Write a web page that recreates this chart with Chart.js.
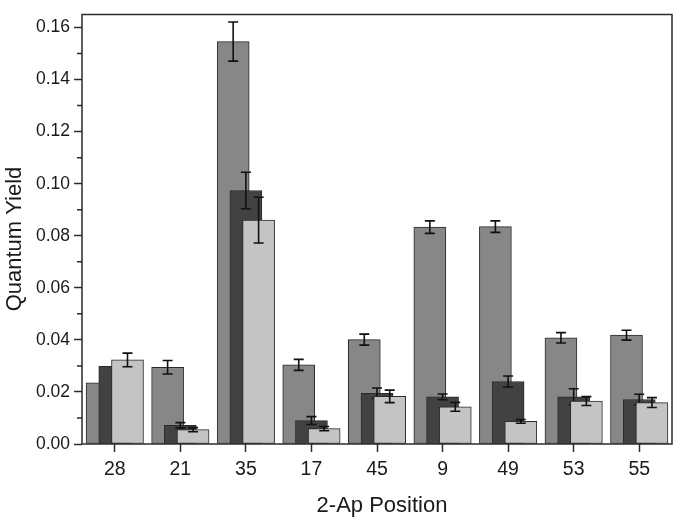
<!DOCTYPE html>
<html>
<head>
<meta charset="utf-8">
<script src="https://cdn.jsdelivr.net/npm/chart.js@4.4.1/dist/chart.umd.min.js"></script>
<style>
  html, body { margin: 0; padding: 0; background: #fff; }
  #wrap { width: 683px; height: 522px; }
</style>
</head>
<body>
<div id="wrap"><canvas id="qyChart" width="683" height="522"></canvas></div>
<script>
// 2-Ap positions along the x axis
const positions = ['28', '21', '35', '17', '45', '9', '49', '53', '55'];

// three series (medium grey, dark grey, light grey) and their errors
const qyMid = [0.0235, 0.0295, 0.1546, 0.0304, 0.0401, 0.0833, 0.0835, 0.0408, 0.0418];
const qyMidErr = [0, 0.0026, 0.0075, 0.0021, 0.0021, 0.0024, 0.0022, 0.0020, 0.0019];
const qyDark = [0.0298, 0.0072, 0.0974, 0.0090, 0.0195, 0.0181, 0.0240, 0.0181, 0.0171];
const qyDarkErr = [0, 0.0010, 0.0070, 0.0015, 0.0020, 0.0011, 0.0021, 0.0031, 0.0020];
const qyLight = [0.0323, 0.0055, 0.0860, 0.0059, 0.0183, 0.0143, 0.0087, 0.0165, 0.0159];
const qyLightErr = [0.0026, 0.0008, 0.0088, 0.0008, 0.0024, 0.0017, 0.0007, 0.0017, 0.0019];

const yTicks = [0, 0.02, 0.04, 0.06, 0.08, 0.10, 0.12, 0.14, 0.16];
const yMinorTicks = [0.01, 0.03, 0.05, 0.07, 0.09, 0.11, 0.13, 0.15];

const AXIS_COLOR = '#2b2b2b';
const TEXT_COLOR = '#1a1a1a';
const FONT = 'Liberation Sans, Arial, sans-serif';

// bars overlap: each series is shifted a bit inside its category.
// higher 'order' is painted first, so the later series sits on top
function series(label, values, errors, shift, color, order) {
    return {
        label: label,
        data: values.map((v, i) => ({ x: i + shift, y: v })),
        errors: errors,
        order: order,
        backgroundColor: color,
        borderColor: '#2a2a2a',
        borderWidth: 1,
        borderSkipped: false,
        barThickness: 32,
        grouped: false
    };
}

// draw error bars right after each dataset, so later bars cover them
const errorBars = {
    id: 'errorBars',
    afterDatasetDraw(chart, args) {
        const ds = chart.data.datasets[args.index];
        const yScale = chart.scales.y;
        const ctx = chart.ctx;
        ctx.save();
        ctx.strokeStyle = '#111';
        ctx.lineWidth = 1.6;
        args.meta.data.forEach((bar, i) => {
            const err = ds.errors[i];
            if (!err) return;
            const v = ds.data[i].y;
            const top = yScale.getPixelForValue(v + err);
            const bot = yScale.getPixelForValue(v - err);
            ctx.beginPath();
            ctx.moveTo(bar.x, top);
            ctx.lineTo(bar.x, bot);
            ctx.moveTo(bar.x - 5, top);
            ctx.lineTo(bar.x + 5, top);
            ctx.moveTo(bar.x - 5, bot);
            ctx.lineTo(bar.x + 5, bot);
            ctx.stroke();
        });
        ctx.restore();
    }
};

// box around the plot, short minor ticks on the y axis, axis titles
const frame = {
    id: 'frame',
    afterDraw(chart) {
        const a = chart.chartArea;
        const ctx = chart.ctx;
        const yScale = chart.scales.y;
        ctx.save();
        ctx.strokeStyle = AXIS_COLOR;
        ctx.lineWidth = 1.5;
        ctx.strokeRect(a.left, a.top, a.right - a.left, a.bottom - a.top);
        ctx.beginPath();
        yMinorTicks.forEach(v => {
            const py = yScale.getPixelForValue(v);
            ctx.moveTo(a.left - 5, py);
            ctx.lineTo(a.left, py);
        });
        ctx.stroke();

        ctx.fillStyle = TEXT_COLOR;
        ctx.font = '22px ' + FONT;
        ctx.textAlign = 'center';
        ctx.textBaseline = 'middle';
        ctx.fillText('2-Ap Position', 382, 506);
        ctx.translate(15, 239);
        ctx.rotate(-Math.PI / 2);
        ctx.fillText('Quantum Yield', 0, 0);
        ctx.restore();
    }
};

new Chart(document.getElementById('qyChart').getContext('2d'), {
    type: 'bar',
    data: {
        datasets: [
            series('A', qyMid, qyMidErr, -0.194, '#878787', 3),
            series('B', qyDark, qyDarkErr, 0, '#424242', 2),
            series('C', qyLight, qyLightErr, 0.194, '#c4c4c4', 1)
        ]
    },
    options: {
        responsive: false,
        animation: false,
        layout: { padding: { top: 5, right: 11, left: 0, bottom: 0 } },
        plugins: { legend: { display: false }, tooltip: { enabled: false } },
        scales: {
            x: {
                type: 'linear',
                min: -0.5,
                max: 8.5,
                offset: false,
                afterBuildTicks: s => { s.ticks = positions.map((p, i) => ({ value: i })); },
                afterFit: s => { s.height = 78; },
                ticks: {
                    callback: v => positions[v],
                    color: TEXT_COLOR,
                    font: { family: FONT, size: 19.5 },
                    padding: 6,
                    maxRotation: 0
                },
                grid: { drawOnChartArea: false, offset: false, tickLength: 8, tickColor: AXIS_COLOR, tickWidth: 1.5 },
                border: { display: false }
            },
            y: {
                min: 0,
                max: 0.165,
                afterBuildTicks: s => { s.ticks = yTicks.map(v => ({ value: v })); },
                afterFit: s => { s.width = 82; },
                ticks: {
                    callback: v => v.toFixed(2),
                    color: TEXT_COLOR,
                    font: { family: FONT, size: 17.5 },
                    padding: 4
                },
                grid: { drawOnChartArea: false, tickLength: 8, tickColor: AXIS_COLOR, tickWidth: 1.5 },
                border: { display: false }
            }
        }
    },
    plugins: [errorBars, frame]
});
</script>
</body>
</html>
